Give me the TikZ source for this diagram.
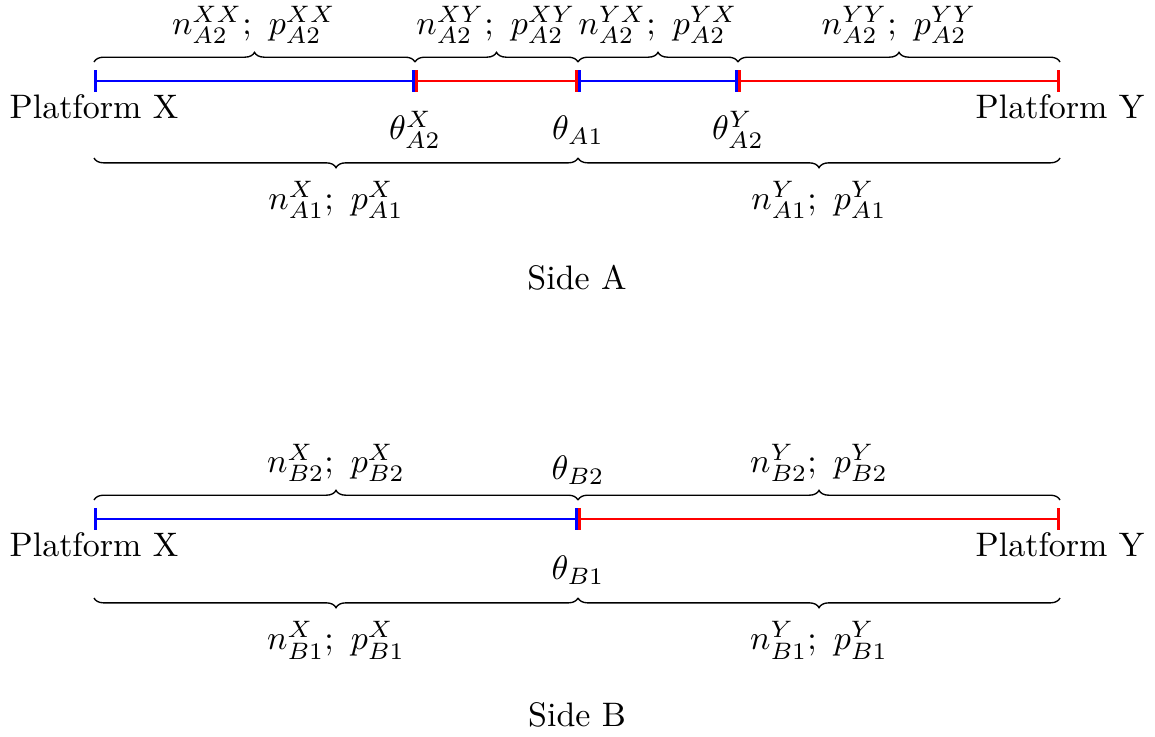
\documentclass[tikz,border=0pt]{standalone}
\usetikzlibrary{arrows.meta,decorations.pathreplacing}
\begin{document}
\begin{tikzpicture}[x=0.010352cm,y=-0.010352cm,
  seg/.style={thick,{Bar[width=6.2pt]}-{Bar[width=6.2pt]}},
  xseg/.style={seg,blue},
  yseg/.style={seg,red},
  brc/.style={decorate,decoration={brace,amplitude=0.1cm}},
  lbl/.style={inner sep=1pt}]
\useasboundingbox (0,0) rectangle (1155,736);
% ---------- Side A ----------
\coordinate (a0) at (94,81);
\coordinate (a1) at (415,81);
\coordinate (a2) at (578,81);
\coordinate (a3) at (738,81);
\coordinate (a4) at (1060,81);
\draw[xseg] (a0) -- (a1);
\draw[yseg] (a1) -- (a2);
\draw[xseg] (a2) -- (a3);
\draw[yseg] (a3) -- (a4);
\coordinate (ta0) at (94,62);
\coordinate (ta1) at (415,62);
\coordinate (ta2) at (578,62);
\coordinate (ta3) at (738,62);
\coordinate (ta4) at (1060,62);
\draw[brc] (ta0) -- (ta1);
\draw[brc] (ta1) -- (ta2);
\draw[brc] (ta2) -- (ta3);
\draw[brc] (ta3) -- (ta4);
\node[lbl] (lxx) at (254,25) {$n^{XX}_{A2};\ p^{XX}_{A2}$};
\node[lbl] (lxy) at (496,25) {$n^{XY}_{A2};\ p^{XY}_{A2}$};
\node[lbl] (lyx) at (658,25) {$n^{YX}_{A2};\ p^{YX}_{A2}$};
\node[lbl] (lyy) at (899,25) {$n^{YY}_{A2};\ p^{YY}_{A2}$};
\node[lbl] (pxa) at (94,107) {Platform X};
\node[lbl] (pya) at (1060,107) {Platform Y};
\node[lbl] (tax) at (415,130) {$\theta^{X}_{A2}$};
\node[lbl] (ta) at (578,130) {$\theta_{A1}$};
\node[lbl] (tay) at (738,130) {$\theta^{Y}_{A2}$};
\coordinate (ba0) at (94,158);
\coordinate (ba1) at (578,158);
\coordinate (ba2) at (1060,158);
\draw[brc] (ba1) -- (ba0);
\draw[brc] (ba2) -- (ba1);
\node[lbl] (lxa) at (336,200) {$n^{X}_{A1};\ p^{X}_{A1}$};
\node[lbl] (lya) at (819,200) {$n^{Y}_{A1};\ p^{Y}_{A1}$};
\node[lbl] (sa) at (577,278) {Side A};
% ---------- Side B ----------
\coordinate (b0) at (94,519);
\coordinate (b1) at (578,519);
\coordinate (b2) at (1060,519);
\draw[xseg] (b0) -- (b1);
\draw[yseg] (b1) -- (b2);
\coordinate (tb0) at (94,500);
\coordinate (tb1) at (578,500);
\coordinate (tb2) at (1060,500);
\draw[brc] (tb0) -- (tb1);
\draw[brc] (tb1) -- (tb2);
\node[lbl] (lxb2) at (336,463) {$n^{X}_{B2};\ p^{X}_{B2}$};
\node[lbl] (lyb2) at (819,463) {$n^{Y}_{B2};\ p^{Y}_{B2}$};
\node[lbl] (tb2l) at (578,470) {$\theta_{B2}$};
\node[lbl] (pxb) at (94,545) {Platform X};
\node[lbl] (pyb) at (1060,545) {Platform Y};
\node[lbl] (tb1l) at (578,570) {$\theta_{B1}$};
\coordinate (bb0) at (94,598);
\coordinate (bb1) at (578,598);
\coordinate (bb2) at (1060,598);
\draw[brc] (bb1) -- (bb0);
\draw[brc] (bb2) -- (bb1);
\node[lbl] (lxb1) at (336,640) {$n^{X}_{B1};\ p^{X}_{B1}$};
\node[lbl] (lyb1) at (819,640) {$n^{Y}_{B1};\ p^{Y}_{B1}$};
\node[lbl] (sb) at (577,715) {Side B};
\end{tikzpicture}
\end{document}
